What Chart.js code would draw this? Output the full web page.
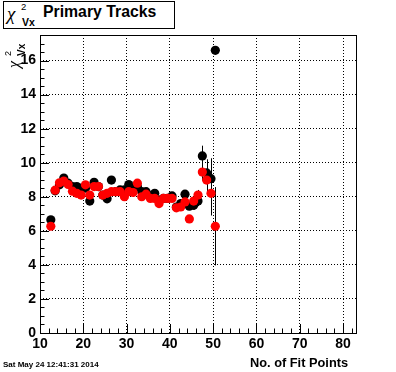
<!DOCTYPE html>
<html>
<head>
<meta charset="utf-8">
<script src="https://cdn.jsdelivr.net/npm/chart.js@4.4.1/dist/chart.umd.min.js"></script>
<style>
  body { margin: 0; background: #fff; }
  #wrap { position: relative; width: 396px; height: 372px; font-family: "Liberation Sans", Arial, sans-serif; color: #000; }
  #c { position: absolute; left: 0; top: 0; }
  .t { position: absolute; line-height: 1; white-space: nowrap; }
  .chi { font-family: "Liberation Serif", "DejaVu Serif", serif; font-style: italic; }
  .b { font-weight: bold; }
</style>
</head>
<body>
<div id="wrap">
  <canvas id="c" width="396" height="372"></canvas>

  <div style="position:absolute;left:3px;top:1px;width:170px;height:26px;border:1px solid #000;background:#fff;"></div>
  <span class="t chi" style="left:7px;top:4px;font-size:19px;">χ</span>
  <span class="t" style="left:21px;top:2px;font-size:9.5px;">2</span>
  <span class="t b" style="left:22px;top:17px;font-size:10.5px;">Vx</span>
  <span class="t b" style="left:43px;top:4px;font-size:15.8px;">Primary Tracks</span>

  <div style="position:absolute;left:5px;top:68px;width:28px;height:18px;transform-origin:0 0;transform:rotate(-90deg);">
    <span class="t chi" style="left:0;top:1px;font-size:16px;">χ</span>
    <span class="t" style="left:12px;top:-1px;font-size:9px;">2</span>
    <span class="t b" style="left:12px;top:12px;font-size:10px;">Vx</span>
  </div>

  <span class="t b" style="left:250px;top:357px;font-size:12.8px;">No. of Fit Points</span>
  <span class="t b" style="left:3px;top:361px;font-size:8px;">Sat May 24 12:41:31 2014</span>
</div>

<script>
// bins of the number of fit points
const fitPoints = [12.5, 13.5, 14.5, 15.5, 16.5, 17.5, 18.5, 19.5, 20.5, 21.5,
  22.5, 23.5, 24.5, 25.5, 26.5, 27.5, 28.5, 29.5, 30.5, 31.5,
  32.5, 33.5, 34.5, 35.5, 36.5, 37.5, 38.5, 39.5, 40.5, 41.5,
  42.5, 43.5, 44.5, 45.5, 46.5, 47.5, 48.5, 49.5, 50.5];

// black markers
const chi2Black = [6.65, 8.35, 8.7, 9.1, 8.8, 8.6, 8.6, 8.5, 8.5, 7.75,
  8.85, 8.6, 8.1, 7.88, 8.98, 8.3, 8.4, 8.4, 8.72, 8.5,
  8.6, 8.3, 8.3, 8.05, 8.2, 7.8, 7.9, 7.9, 8.05, 7.4,
  7.6, 8.15, 7.45, 7.5, 7.75, 10.4, 9.4, 9.06, 16.6];
const errBlack = [0.15, 0.1, 0.1, 0.1, 0.1, 0.1, 0.1, 0.1, 0.1, 0.1,
  0.1, 0.1, 0.1, 0.1, 0.1, 0.1, 0.1, 0.1, 0.1, 0.1,
  0.1, 0.1, 0.1, 0.1, 0.1, 0.1, 0.1, 0.1, 0.12, 0.12,
  0.15, 0.15, 0.2, 0.25, 0.3, 0.6, 0.8, 1.2, 0];

// red markers
const chi2Red = [6.27, 8.39, 8.82, 8.92, 8.72, 8.33, 8.2, 8.1, 8.7, 8.1,
  8.6, 8.6, 8.1, 8.2, 8.3, 8.3, 8.3, 8.0, 8.3, 8.25,
  8.8, 8.0, 8.15, 7.9, 7.9, 7.6, 7.9, 7.9, 7.9, 7.35,
  7.4, 7.7, 6.7, 7.75, 8.1, 9.45, 8.98, 8.2, 6.27];
const errRed = [0.15, 0.1, 0.1, 0.1, 0.1, 0.1, 0.1, 0.1, 0.1, 0.1,
  0.1, 0.1, 0.1, 0.1, 0.1, 0.1, 0.1, 0.1, 0.1, 0.1,
  0.1, 0.1, 0.1, 0.1, 0.1, 0.1, 0.1, 0.1, 0.12, 0.12,
  0.15, 0.15, 0.2, 0.25, 0.3, 0.5, 0.7, 1.3, 2.3];

const xTicks = [10, 20, 30, 40, 50, 60, 70, 80];
const yTicks = [0, 2, 4, 6, 8, 10, 12, 14, 16];

const PLOT = { left: 40, right: 356, top: 35, bottom: 333 };

const toPoints = (ys) => fitPoints.map((x, i) => ({ x: x, y: ys[i] }));

// error bars, inward ticks and the frame
const rootStyle = {
  id: 'rootStyle',
  beforeDatasetsDraw(chart) {
    const ctx = chart.ctx;
    const xs = chart.scales.x, ys = chart.scales.y;
    const a = chart.chartArea;
    ctx.save();
    ctx.beginPath();
    ctx.rect(a.left, a.top, a.right - a.left, a.bottom - a.top);
    ctx.clip();
    ctx.strokeStyle = '#000';
    ctx.lineWidth = 1;
    [[chi2Black, errBlack], [chi2Red, errRed]].forEach(([vals, errs]) => {
      vals.forEach((v, i) => {
        if (!errs[i]) return;
        const px = Math.round(xs.getPixelForValue(fitPoints[i])) + 0.5;
        ctx.beginPath();
        ctx.moveTo(px, ys.getPixelForValue(v - errs[i]));
        ctx.lineTo(px, ys.getPixelForValue(v + errs[i]));
        ctx.stroke();
      });
    });
    ctx.restore();
  },
  afterDraw(chart) {
    const ctx = chart.ctx;
    const xs = chart.scales.x, ys = chart.scales.y;
    const a = chart.chartArea;
    ctx.save();
    ctx.strokeStyle = '#000';
    ctx.lineWidth = 1;
    ctx.beginPath();
    // x ticks every 2, major every 10
    for (let v = 10; v <= 83; v += 2) {
      const px = Math.round(xs.getPixelForValue(v)) + 0.5;
      const len = v % 10 === 0 ? 9 : 4.5;
      ctx.moveTo(px, a.bottom);
      ctx.lineTo(px, a.bottom - len);
    }
    // y ticks every 0.5, major every 2
    for (let v = 0; v <= 17.5; v += 0.5) {
      const py = Math.round(ys.getPixelForValue(v)) + 0.5;
      const len = v % 2 === 0 ? 9 : 4.5;
      ctx.moveTo(a.left, py);
      ctx.lineTo(a.left + len, py);
    }
    ctx.stroke();
    ctx.strokeRect(Math.round(a.left) + 0.5, Math.round(a.top) + 0.5,
      Math.round(a.right - a.left), Math.round(a.bottom - a.top));
    ctx.restore();
  }
};

const tickFont = { family: 'Liberation Sans', size: 14, weight: 'bold' };

new Chart(document.getElementById('c'), {
  type: 'scatter',
  data: {
    datasets: [
      {
        label: 'black',
        data: toPoints(chi2Black),
        backgroundColor: '#000',
        borderWidth: 0,
        pointRadius: 4.6,
        pointHoverRadius: 4.6,
        order: 2
      },
      {
        label: 'red',
        data: toPoints(chi2Red),
        backgroundColor: '#ff0000',
        borderWidth: 0,
        pointRadius: 4.6,
        pointHoverRadius: 4.6,
        order: 1
      }
    ]
  },
  options: {
    responsive: false,
    animation: false,
    events: [],
    layout: { padding: { left: 0, top: PLOT.top, right: 396 - PLOT.right, bottom: 0 } },
    plugins: { legend: { display: false }, tooltip: { enabled: false } },
    scales: {
      x: {
        type: 'linear',
        min: 10,
        max: 83,
        afterBuildTicks: (s) => { s.ticks = xTicks.map(v => ({ value: v })); },
        afterFit: (s) => { s.height = 372 - PLOT.bottom; },
        grid: { color: '#000', lineWidth: 1, drawTicks: false },
        border: { display: false, dash: [1, 2] },
        ticks: { font: tickFont, color: '#000', padding: 3, maxRotation: 0, autoSkip: false }
      },
      y: {
        min: 0,
        max: 17.5,
        afterBuildTicks: (s) => { s.ticks = yTicks.map(v => ({ value: v })); },
        afterFit: (s) => { s.width = PLOT.left; },
        grid: { color: '#000', lineWidth: 1, drawTicks: false },
        border: { display: false, dash: [1, 2] },
        ticks: { font: tickFont, color: '#000', padding: 4 }
      }
    }
  },
  plugins: [rootStyle]
});
</script>
</body>
</html>
